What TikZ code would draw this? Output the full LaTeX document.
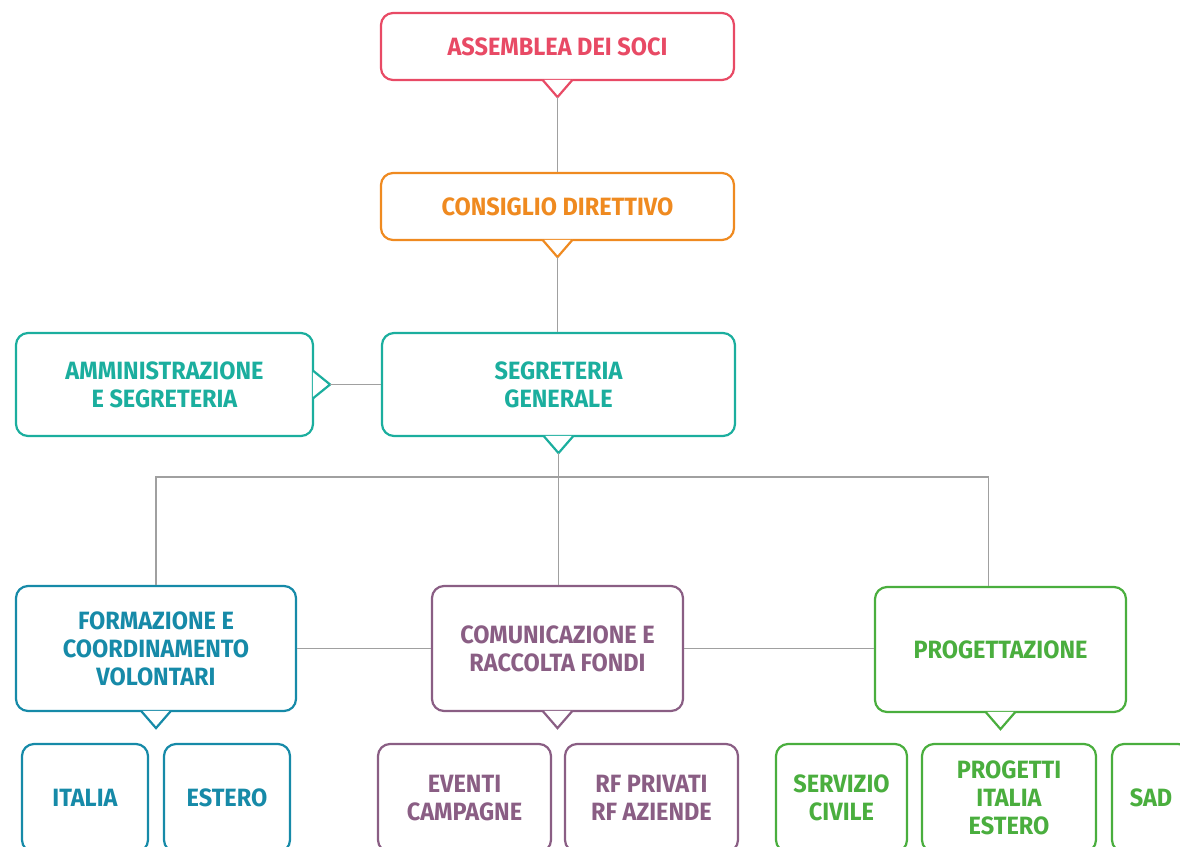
\documentclass[tikz,border=0pt]{standalone}
\usepackage{fontspec}
\setmainfont{Fira Sans}[FakeStretch=0.94]
\usetikzlibrary{calc}

\definecolor{rosso}{HTML}{E84A65}
\definecolor{arancio}{HTML}{EF8A20}
\definecolor{teal}{HTML}{1BAE9E}
\definecolor{blu}{HTML}{168AA8}
\definecolor{viola}{HTML}{8A5E84}
\definecolor{verde}{HTML}{4AAE3E}
\definecolor{grigio}{HTML}{A0A0A0}

\tikzset{
  box/.style={draw=#1, text=#1, fill=white, line width=2.2pt, rounded corners=12pt,
    align=center, inner sep=0pt, font=\fontsize{25}{28}\selectfont\bfseries},
  link/.style={draw=grigio, line width=1.2pt},
}

% tail under a box, tip saved as <name>t
\newcommand{\codagiu}[2]{%
  \filldraw[draw=#2, fill=white, line width=2.2pt]
    ([xshift=-15pt,yshift=1.3pt]#1.south) -- ([yshift=-16pt]#1.south) -- ([xshift=15pt,yshift=1.3pt]#1.south);
  \coordinate (#1t) at ([yshift=-16pt]#1.south);}
\newcommand{\codadx}[2]{%
  \filldraw[draw=#2, fill=white, line width=2.2pt]
    ([yshift=14pt,xshift=-1.3pt]#1.east) -- ([xshift=16pt]#1.east) -- ([yshift=-14pt,xshift=-1.3pt]#1.east);
  \coordinate (#1t) at ([xshift=16pt]#1.east);}

\begin{document}
\begin{tikzpicture}[x=1pt, y=-1pt]
\useasboundingbox (0,0) rectangle (1180,846);

\node[box=rosso, minimum width=353pt, minimum height=67pt] (AS) at (557.5,46.5) {ASSEMBLEA DEI SOCI};
\node[box=arancio, minimum width=353pt, minimum height=67pt] (CD) at (557.5,206.5) {CONSIGLIO DIRETTIVO};
\node[box=teal, minimum width=353pt, minimum height=103pt] (SG) at (558.5,384.5) {SEGRETERIA\\GENERALE};
\node[box=teal, minimum width=297pt, minimum height=103pt] (AM) at (164.5,384.5) {AMMINISTRAZIONE\\E SEGRETERIA};

\node[box=blu, minimum width=280pt, minimum height=125pt] (FC) at (156,648.5) {FORMAZIONE E\\COORDINAMENTO\\VOLONTARI};
\node[box=viola, minimum width=251pt, minimum height=125pt] (CR) at (557.5,648.5) {COMUNICAZIONE E\\RACCOLTA FONDI};
\node[box=verde, minimum width=251pt, minimum height=125pt] (PR) at (1000.5,649.5) {PROGETTAZIONE};

\codagiu{AS}{rosso}
\codagiu{CD}{arancio}
\codagiu{SG}{teal}
\codadx{AM}{teal}
\codagiu{FC}{blu}
\codagiu{CR}{viola}
\codagiu{PR}{verde}

% bottom row, cut by the page edge
\node[box=blu, minimum width=126pt, minimum height=108pt] (IT) at (85,798) {ITALIA};
\node[box=blu, minimum width=126pt, minimum height=108pt] (ES) at (227,798) {ESTERO};
\node[box=viola, minimum width=173pt, minimum height=108pt] (EV) at (464.5,798) {EVENTI\\CAMPAGNE};
\node[box=viola, minimum width=173pt, minimum height=108pt] (RF) at (651.5,798) {RF PRIVATI\\RF AZIENDE};
\node[box=verde, minimum width=131pt, minimum height=108pt] (SC) at (841.5,798) {SERVIZIO\\CIVILE};
\node[box=verde, minimum width=174pt, minimum height=108pt] (PI) at (1009,798) {PROGETTI\\ITALIA\\ESTERO};
\node[box=verde, minimum width=78pt, minimum height=108pt] (SAD) at (1151,798) {SAD};

% connectors
\coordinate (bus) at (557.5,477);
\coordinate (PRin) at ([xshift=-12pt]PR.north);
\draw[link] (ASt) -- (CD.north);
\draw[link] (CDt) -- (CDt |- SG.north);
\draw[link] (AMt) -- (SG.west);
\draw[link] (SGt) -- (SGt |- CR.north);
\draw[link] (FC.north) |- (bus) -| (PRin);
\draw[link] (FC.east) -- (CR.west);
\draw[link] (CR.east) -- (CR.east -| PR.west);

\end{tikzpicture}
\end{document}
